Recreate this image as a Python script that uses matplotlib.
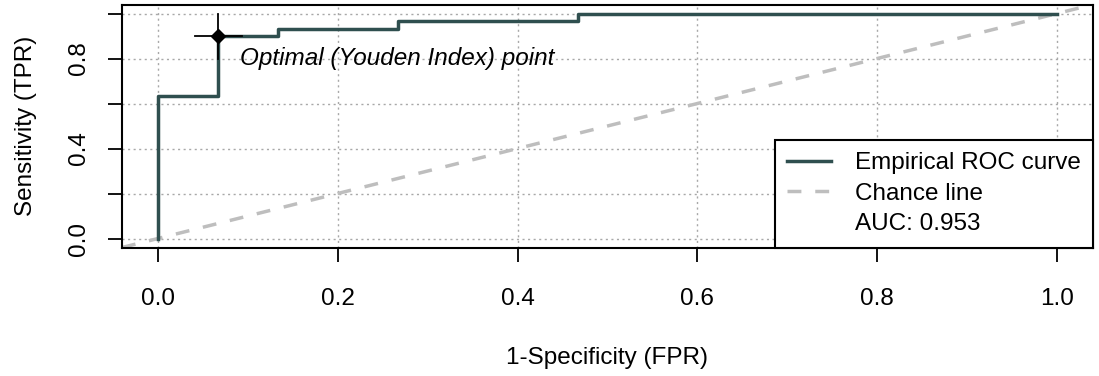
import matplotlib
matplotlib.use('Agg')
import matplotlib.pyplot as plt
from matplotlib.lines import Line2D

# ROC curve (15 negatives, 30 positives)
fpr = [0.0, 0.0, 0.0667, 0.1333, 0.2667, 0.4667, 1.0]
tpr = [0.0, 0.633, 0.9, 0.933, 0.967, 1.0, 1.0]
auc = 0.953

# optimal (Youden) point and its cross bars
opt_fpr, opt_tpr = 0.0667, 0.9
opt_fpr_range = (0.041, 0.093)
opt_tpr_range = (0.80, 1.0)

ticks = [0.0, 0.2, 0.4, 0.6, 0.8, 1.0]
y_ticklabels = ["0.0", "", "0.4", "", "0.8", ""]

plt.rcParams['font.family'] = ['Liberation Sans', 'DejaVu Sans']
FS = 17.5

fig = plt.figure(figsize=(10.99, 3.76), dpi=100)
ax = fig.add_axes([122 / 1099, 1 - 247.5 / 376, (1093 - 122) / 1099, (247.5 - 4.5) / 376])
ax.set_xlim(-0.04, 1.04)
ax.set_ylim(-0.04, 1.04)

# grid
ax.set_xticks(ticks)
ax.set_yticks(ticks)
ax.grid(True, linestyle=(0, (1.5, 2.5)), color='#a8a8a8', linewidth=1.0)
ax.set_axisbelow(True)

# chance line
ax.axline((0, 0), (1, 1), color='#bebebe', linewidth=2.5, linestyle=(0, (4, 4)), zorder=2)

# empirical ROC
ax.plot(fpr, tpr, drawstyle='steps-post', color='#2f4f4f', linewidth=2.5, zorder=3)

# optimal point
ax.plot(opt_fpr_range, [opt_tpr, opt_tpr], color='black', linewidth=1.3, zorder=4)
ax.plot([opt_fpr, opt_fpr], opt_tpr_range, color='black', linewidth=1.3, zorder=4)
ax.plot([opt_fpr], [opt_tpr], marker='D', markersize=7, color='black', zorder=5)
ax.text(opt_fpr + 0.025, 0.80, "Optimal (Youden Index) point", fontsize=FS,
        style='italic', ha='left', va='center', zorder=5)

# axes styling
for sp in ax.spines.values():
    sp.set_color('black')
    sp.set_linewidth(1.5)
ax.set_xticklabels([f"{t:.1f}" for t in ticks])
ax.set_yticklabels(y_ticklabels, rotation=90, va='center')
ax.tick_params(axis='both', direction='out', length=10, width=1.3, labelsize=FS)
ax.tick_params(axis='x', pad=19)
ax.tick_params(axis='y', pad=13)
ax.set_xlabel("1-Specificity (FPR)", fontsize=FS, labelpad=27)
ax.set_ylabel("Sensitivity (TPR)", fontsize=FS, labelpad=22)

# legend
handles = [
    Line2D([], [], color='#2f4f4f', linewidth=2.5),
    Line2D([], [], color='#bebebe', linewidth=2.5, linestyle=(0, (4, 4))),
    Line2D([], [], color='none'),
]
labels = ["Empirical ROC curve", "Chance line", f"AUC: {auc:.3f}"]
leg = ax.legend(handles, labels, loc='lower right', bbox_to_anchor=(1.0, 0.0),
                borderaxespad=0, fontsize=FS, frameon=True, fancybox=False,
                handlelength=1.8, handletextpad=1.0, borderpad=0.5,
                labelspacing=0.35)
leg.get_frame().set_edgecolor('black')
leg.get_frame().set_linewidth(1.5)
leg.get_frame().set_alpha(1)
leg.set_zorder(6)

fig.savefig('out.png', dpi=100)
